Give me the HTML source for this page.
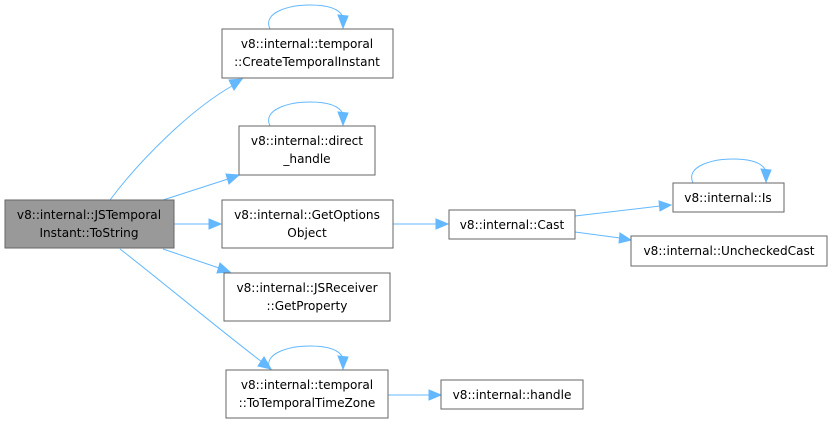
<!DOCTYPE html>
<html><head><meta charset="utf-8"><style>
html,body{margin:0;padding:0;background:#fff;width:832px;height:425px;overflow:hidden}
text{font-family:"DejaVu Sans",sans-serif;font-size:12.1px;fill:#000;text-anchor:middle}
.b{fill:#fff;stroke:#666;stroke-width:1}
.e{fill:none;stroke:#63b8ff;stroke-width:1}
.a{fill:#63b8ff;stroke:#63b8ff}
</style></head><body>
<svg width="832" height="425" viewBox="0 0 832 425" xmlns="http://www.w3.org/2000/svg">
<path class="e" d="M110,200 C140,160 190,110 232,86"/><polygon class="a" points="242,79 229,80 234,90"/>
<path class="e" d="M163,200 L228,179"/><polygon class="a" points="239,175 226,174 229,184"/>
<path class="e" d="M174,224 L210,224"/><polygon class="a" points="221,224 209,219 209,229"/>
<path class="e" d="M163,249 L219,268"/><polygon class="a" points="230,272 220,263 217,273"/>
<path class="e" d="M120,249 C160,280 220,330 262,362"/><polygon class="a" points="271,369 264,357 258,366"/>
<path class="e" d="M393,224 L437,224"/><polygon class="a" points="448,224 436,219 436,229"/>
<path class="e" d="M575,216 L660,206"/><polygon class="a" points="671,205 659,201 660,211"/>
<path class="e" d="M575,232 L620,238"/><polygon class="a" points="631,240 620,233 619,243"/>
<path class="e" d="M388,395 L430,395"/><polygon class="a" points="441,395 429,390 429,400"/>
<path class="e" d="M270,29 C262,12 290,5 310,5 C330,5 340,10 343,17"/><polygon class="a" points="343,28 338,15 348,16"/>
<path class="e" d="M270,126 C262,109 290,102 310,102 C330,102 340,107 343,114"/><polygon class="a" points="343,125 338,112 348,113"/>
<path class="e" d="M270,370 C262,353 290,346 310,346 C330,346 340,351 343,358"/><polygon class="a" points="343,369 338,356 348,357"/>
<path class="e" d="M693,183 C685,166 713,159 733,159 C753,159 763,164 766,171"/><polygon class="a" points="766,182 761,169 771,170"/>
<rect x="5" y="200" width="169" height="48" fill="#999" stroke="#666"/>
<text x="89" y="219">v8::internal::JSTemporal</text><text x="89" y="237">Instant::ToString</text>
<rect class="b" x="222" y="29" width="171" height="49"/>
<text x="307" y="48">v8::internal::temporal</text><text x="307" y="66">::CreateTemporalInstant</text>
<rect class="b" x="239" y="126" width="136" height="49"/>
<text x="307" y="145">v8::internal::direct</text><text x="307" y="163">_handle</text>
<rect class="b" x="222" y="200" width="171" height="48"/>
<text x="307" y="219">v8::internal::GetOptions</text><text x="307" y="237">Object</text>
<rect class="b" x="224" y="273" width="166" height="48"/>
<text x="307" y="292">v8::internal::JSReceiver</text><text x="307" y="310">::GetProperty</text>
<rect class="b" x="226" y="370" width="162" height="48"/>
<text x="307" y="389">v8::internal::temporal</text><text x="307" y="407">::ToTemporalTimeZone</text>
<rect class="b" x="449" y="210" width="126" height="29"/>
<text x="512" y="229">v8::internal::Cast</text>
<rect class="b" x="673" y="183" width="111" height="29"/>
<text x="728" y="202">v8::internal::Is</text>
<rect class="b" x="631" y="236" width="196" height="30"/>
<text x="729" y="255">v8::internal::UncheckedCast</text>
<rect class="b" x="441" y="380" width="142" height="29"/>
<text x="512" y="399">v8::internal::handle</text>
</svg>
</body></html>
